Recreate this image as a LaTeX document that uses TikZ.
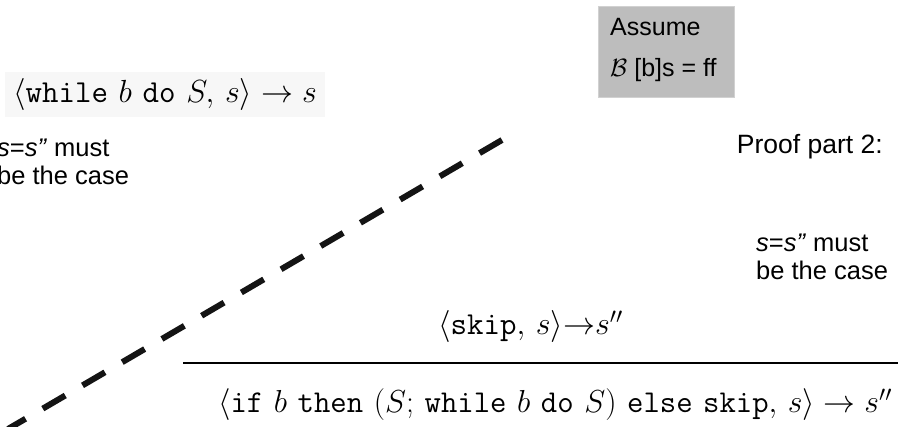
\RequirePackage{fix-cm}
\documentclass[tikz,border=0pt]{standalone}
\usepackage{fontspec}
\setmainfont{Liberation Sans}
\newcommand{\wsp}{\hspace{0.333em}}
\begin{document}
\begin{tikzpicture}[x=1pt,y=-1pt,
  txt/.style={inner sep=0pt, anchor=base west, align=left},
  sans/.style={txt, font=\fontsize{25.5}{30}\selectfont},
  mth/.style={txt, font=\fontsize{32}{38}\selectfont},
  faint/.style={fill=black!3, draw=none},
  dashline/.style={line width=6pt, dash pattern=on 26pt off 20pt, black!92},
  rule/.style={line width=2pt}]
\useasboundingbox (0,0) rectangle (898,427);

% faint backgrounds of pasted formulas
\fill[faint] (5,72) rectangle (325,117);

% assumption box
\node[draw=black!18, fill=black!26, line width=0.8pt, minimum width=136pt, minimum height=91pt, inner sep=0pt, anchor=north west] (box) at (598,6) {};
\node[sans, font=\fontsize{25}{30}\selectfont] (assume) at (610,36) {Assume};
\node[sans, font=\fontsize{25}{30}\selectfont] (bsff) at (610,77) {$\mathcal{B}$ [b]s = ff};

% proof label
\node[sans, anchor=base east, font=\fontsize{26.5}{30}\selectfont] (proof) at (883,154) {Proof part 2:};

% formulas
\node[mth] (wh) at (13,103) {$\langle\texttt{while}\wsp b\wsp \texttt{do}\wsp S,\,s\rangle \to s$};
\node[mth] (sk) at (438,335) {$\langle\texttt{skip},\,s\rangle{\to}s''$};
\node[mth, font=\fontsize{31.8}{36}\selectfont] (ifs) at (218,413) {$\langle\texttt{if}\wsp b\wsp \texttt{then}\wsp (S;\,\texttt{while}\wsp b\wsp \texttt{do}\wsp S)\wsp \texttt{else}\wsp \texttt{skip},\,s\rangle \to s''$};

% notes
\node[sans] (noteL) at (-3,185) {\textit{s}=\textit{s”} must\\[-2pt]be the case};
\node[sans] (noteR) at (756,280) {\textit{s}=\textit{s”} must\\[-2pt]be the case};

% rule and dashed line
\coordinate (rl) at (183,363);
\coordinate (rr) at (898,363);
\draw[rule] (rl) -- (rr);
\coordinate (dtop) at (502,140);
\coordinate (dbot) at (8,429);
\draw[dashline] (dtop) -- (dbot);
\end{tikzpicture}
\end{document}
